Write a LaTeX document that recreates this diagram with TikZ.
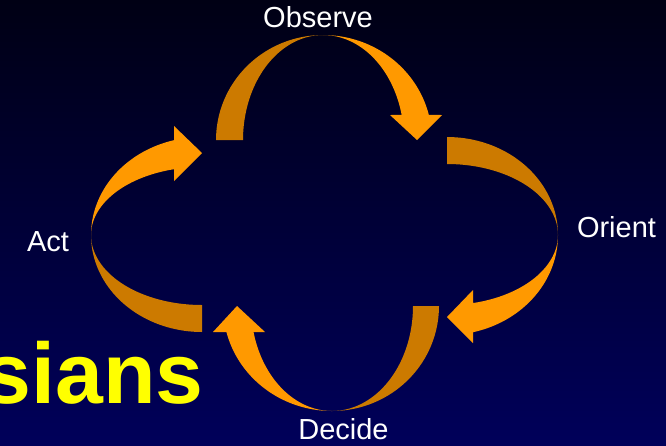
\documentclass[tikz,border=0pt]{standalone}
\usepackage{fontspec}
\setmainfont{Liberation Sans}
\definecolor{bgtop}{RGB}{0,0,20}
\definecolor{bgbot}{RGB}{0,0,90}
\definecolor{darkor}{RGB}{204,122,0}
\definecolor{brightor}{RGB}{255,153,0}
\definecolor{yel}{RGB}{255,255,0}
\tikzset{
  back/.style={fill=darkor},
  front/.style={fill=brightor},
  lbl/.style={text=white, inner sep=0pt, anchor=base, font=\fontsize{29}{34}\selectfont},
  big/.style={text=yel, inner sep=0pt, anchor=base west, font=\fontsize{86}{96}\selectfont\bfseries}
}
\begin{document}
\begin{tikzpicture}[x=1pt,y=-1pt]
\useasboundingbox (0,0) rectangle (666,445);
\shade[top color=bgtop, bottom color=bgbot] (0,0) rectangle (666,445);

% Top arrow (Observe), centre (323,140)
\fill[back] plot[domain=180:270,samples=40] ({323+107*cos(\x)},{140+105*sin(\x)})
  -- plot[domain=270:180,samples=40] ({323+80*cos(\x)},{140+105*sin(\x)}) -- cycle;
\fill[front] plot[domain=270:346.2,samples=40] ({323+109*cos(\x)},{140+105*sin(\x)})
  -- (442,115) -- (417,140) -- (390,115)
  -- plot[domain=346.2:270,samples=40] ({323+81*cos(\x)},{140+105*sin(\x)}) -- cycle;

% Right arrow (Orient), centre (447,235)
\fill[back] plot[domain=270:360,samples=40] ({447+111*cos(\x)},{235+98*sin(\x)})
  -- plot[domain=360:270,samples=40] ({447+111*cos(\x)},{235+71*sin(\x)}) -- cycle;
\fill[front] plot[domain=0:76.45,samples=40] ({447+111*cos(\x)},{235+100*sin(\x)})
  -- (473,343) -- (447,317) -- (473,290)
  -- plot[domain=76.45:0,samples=40] ({447+111*cos(\x)},{235+70*sin(\x)}) -- cycle;

% Bottom arrow (Decide), centre (332,306)
\fill[back] plot[domain=0:90,samples=40] ({332+107*cos(\x)},{306+105*sin(\x)})
  -- plot[domain=90:0,samples=40] ({332+81*cos(\x)},{306+105*sin(\x)}) -- cycle;
\fill[front] plot[domain=90:165.66,samples=40] ({332+109*cos(\x)},{306+105*sin(\x)})
  -- (213,332) -- (237,306) -- (265,332)
  -- plot[domain=165.66:90,samples=40] ({332+81*cos(\x)},{306+105*sin(\x)}) -- cycle;

% Left arrow (Act), centre (202,235)
\fill[back] plot[domain=90:180,samples=40] ({202+111*cos(\x)},{235+97*sin(\x)})
  -- plot[domain=180:90,samples=40] ({202+111*cos(\x)},{235+70*sin(\x)}) -- cycle;
\fill[front] plot[domain=180:255.39,samples=40] ({202+111*cos(\x)},{235+98*sin(\x)})
  -- (174,126) -- (202,153) -- (174,181)
  -- plot[domain=255.39:180,samples=40] ({202+111*cos(\x)},{235+68*sin(\x)}) -- cycle;

% Labels
\node[lbl] (observe) at (318,27) {Observe};
\node[lbl] (orient) at (616.5,237) {Orient};
\node[lbl] (act) at (48,251) {Act};
\node[lbl] (decide) at (343.5,439) {Decide};
\node[big] (sians) at (-16.6,403) {sians};
\end{tikzpicture}
\end{document}
